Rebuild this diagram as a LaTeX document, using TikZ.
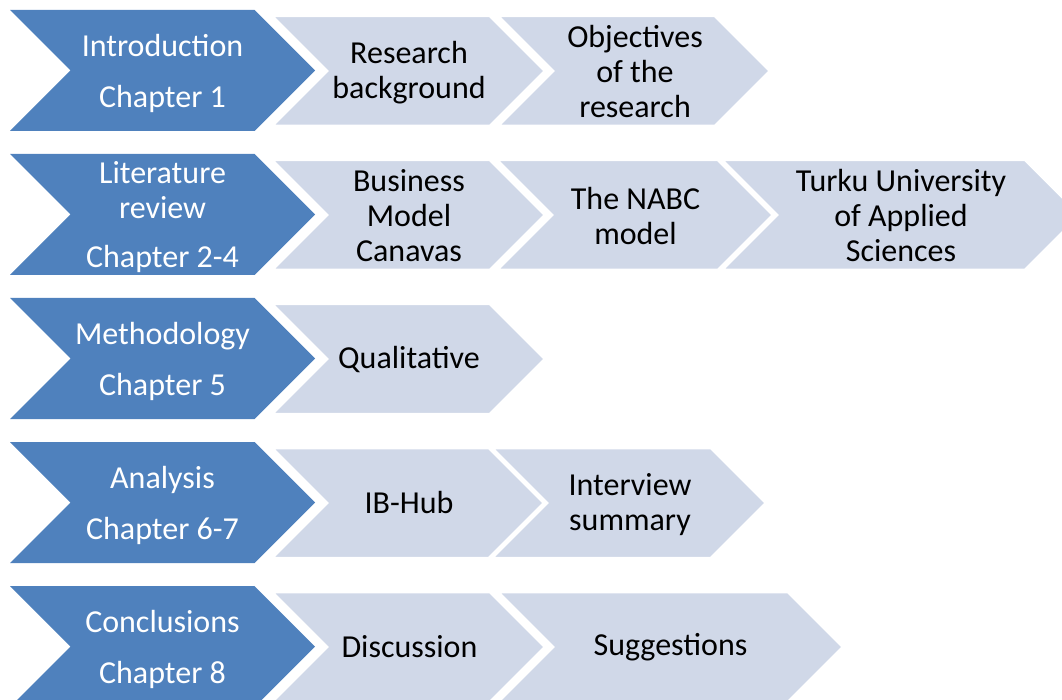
\documentclass[tikz,border=0pt]{standalone}
\usepackage{fontspec}
\setmainfont{Carlito}
\definecolor{stageblue}{HTML}{4F81BD}
\definecolor{steplight}{HTML}{D0D8E8}
\tikzset{
  stagebox/.style={fill=stageblue},
  stepbox/.style={fill=steplight, draw=white, line width=2.5pt, line join=miter},
  stagetext/.style={text=white, align=center, inner sep=0pt,
    font=\fontsize{32}{35}\selectfont},
  steptext/.style={text=black, align=center, inner sep=0pt,
    font=\fontsize{32}{35}\selectfont},
}
% chevron: #1 left, #2 top, #3 total width, #4 height, #5 style
\newcommand\chevron[5]{%
  \path[#5] (#1,#2) -- ++(#3-#4/2,0) -- ++(#4/2,#4/2) -- ++(-#4/2,#4/2)
    -- ++(-#3+#4/2,0) -- ++(#4/2,-#4/2) -- cycle;
}
\begin{document}
\begin{tikzpicture}[x=1pt, y=-1pt]
\useasboundingbox (0,0) rectangle (1062,700);
\clip (0,0) rectangle (1062,700);

% Row 1: Introduction
\chevron{10}{10}{305}{121}{stagebox}
\chevron{272}{16}{273}{110}{stepbox}
\chevron{498}{16}{272}{110}{stepbox}
\node[stagetext] (intro) at (162.5,73.5) {Introduction\\[16pt]Chapter 1};
\node[steptext] (background) at (409,72.5) {Research\\background};
\node[steptext] (objectives) at (635,72) {Objectives\\of the\\research};

% Row 2: Literature review
\chevron{10}{154}{305}{121}{stagebox}
\chevron{272}{160}{273}{110}{stepbox}
\chevron{497}{160}{276}{110}{stepbox}
\chevron{722}{160}{358}{110}{stepbox}
\node[stagetext] (literature) at (162.5,217) {Literature\\review\\[14pt]Chapter 2-4};
\node[steptext] (bmc) at (409,216) {Business\\Model\\Canavas};
\node[steptext] (nabc) at (635.5,216.5) {The NABC\\model};
\node[steptext] (turku) at (901,216) {Turku University\\of Applied\\Sciences};

% Row 3: Methodology
\chevron{10}{298}{305}{121}{stagebox}
\chevron{272}{304}{273}{110}{stepbox}
\node[stagetext] (method) at (162.5,361.5) {Methodology\\[16pt]Chapter 5};
\node[steptext] (qualitative) at (409,360) {Qualitative};

% Row 4: Analysis
\chevron{10}{442}{305}{121}{stagebox}
\chevron{272}{448}{272}{110}{stepbox}
\chevron{492}{448}{274}{110}{stepbox}
\node[stagetext] (analysis) at (162.5,505.5) {Analysis\\[16pt]Chapter 6-7};
\node[steptext] (ibhub) at (409,503) {IB-Hub};
\node[steptext] (interview) at (630,504.5) {Interview\\summary};

% Row 5: Conclusions
\chevron{10}{586}{305}{121}{stagebox}
\chevron{272}{592}{273}{110}{stepbox}
\chevron{498}{592}{345}{110}{stepbox}
\node[stagetext] (conclusions) at (162.5,649.5) {Conclusions\\[16pt]Chapter 8};
\node[steptext] (discussion) at (409.5,646.5) {Discussion};
\node[steptext] (suggestions) at (670.5,647.5) {Suggestions};
\end{tikzpicture}
\end{document}
